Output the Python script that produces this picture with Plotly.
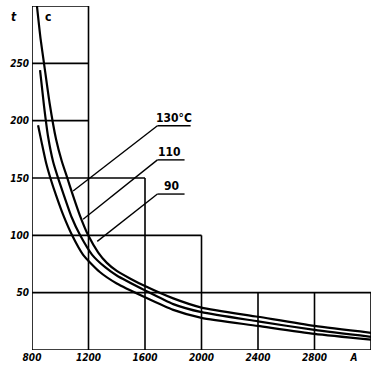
import plotly.graph_objects as go

# Current (A) and time (s)
x130 = [835, 860, 885, 925, 970, 1010, 1050, 1084, 1140, 1198, 1269, 1330, 1400, 1500, 1596, 1800, 2000, 2400, 2800, 3200]
y130 = [300, 272, 250, 215, 184, 165, 150, 137, 117, 100, 85, 76, 69, 62, 56, 45, 37, 29, 21, 15]

x110 = [857, 885, 914, 950, 990, 1020, 1080, 1141, 1226, 1320, 1400, 1600, 1800, 2000, 2400, 2800, 3200]
y110 = [244, 213, 186, 164, 148, 137, 116, 100, 83, 72, 65, 52, 40, 33, 25, 17.5, 11.5]

x90 = [843, 870, 900, 930, 970, 1020, 1084, 1162, 1280, 1400, 1600, 1800, 2000, 2400, 2800, 3200]
y90 = [196, 180, 163, 150, 135, 118, 100, 83, 68, 58, 46, 35, 28, 21, 14, 9]

x_ticks = [800, 1200, 1600, 2000, 2400, 2800, 3080]
x_ticktext = ["800", "1200", "1600", "2000", "2400", "2800", "A"]
y_ticks = [50, 100, 150, 200, 250]
y_ticktext = ["50", "100", "150", "200", "250"]

# stepped grid: horizontal (y, x_end) and vertical (x, y_top)
h_grid = [(300, 1200), (250, 1200), (200, 1200), (150, 1600), (100, 2000), (50, 3200), (0, 3200)]
v_grid = [(800, 300), (1200, 300), (1600, 150), (2000, 100), (2400, 50), (2800, 50), (3200, 50)]

# labels with leader lines: (text, label x, underline y, underline x0, x1, leader end x, y)
labels = [
    ("130°C", 1805, 195.6, 1688, 1923, 1091, 138.6),
    ("110", 1775, 165.8, 1688, 1880, 1162, 114),
    ("90", 1790, 136, 1688, 1880, 1262, 94.7),
]

FONT = "Liberation Sans Narrow, DejaVu Sans Condensed, Arial Narrow, sans-serif"

fig = go.Figure()
for xs, ys in [(x130, y130), (x110, y110), (x90, y90)]:
    fig.add_trace(go.Scatter(x=xs, y=ys, mode="lines",
                             line=dict(color="black", width=2.2, shape="spline", smoothing=0.6),
                             showlegend=False, hoverinfo="skip"))

shapes = []
for y, xe in h_grid:
    shapes.append(dict(type="line", xref="x", yref="y", x0=800, x1=xe, y0=y, y1=y,
                       line=dict(color="black", width=1.6)))
for x, yt in v_grid:
    shapes.append(dict(type="line", xref="x", yref="y", x0=x, x1=x, y0=0, y1=yt,
                       line=dict(color="black", width=1.6)))

annotations = []
for text, lx, uy, ux0, ux1, ex, ey in labels:
    shapes.append(dict(type="line", xref="x", yref="y", x0=ux0, x1=ux1, y0=uy, y1=uy,
                       line=dict(color="black", width=1.4)))
    shapes.append(dict(type="line", xref="x", yref="y", x0=ux0, x1=ex, y0=uy, y1=ey,
                       line=dict(color="black", width=1.4)))
    annotations.append(dict(x=lx, y=uy, xref="x", yref="y", text=text, showarrow=False,
                            xanchor="center", yanchor="bottom", yshift=-1,
                            font=dict(family=FONT, size=12, color="black", weight="bold")))

annotations.append(dict(x=0, y=290, xref="paper", yref="y", text="t", showarrow=False,
                        xanchor="center", xshift=-18,
                        font=dict(family=FONT, size=12, color="black", style="italic", weight="bold")))
annotations.append(dict(x=910, y=290, xref="x", yref="y", text="c", showarrow=False,
                        font=dict(family=FONT, size=12, color="black", weight="bold")))

fig.update_layout(
    width=378, height=371,
    margin=dict(l=32, r=7, t=6, b=21),
    paper_bgcolor="white", plot_bgcolor="white",
    shapes=shapes, annotations=annotations,
    xaxis=dict(range=[800, 3200], showgrid=False, zeroline=False, showline=False,
               tickmode="array", tickvals=x_ticks, ticktext=x_ticktext, ticks="",
               tickfont=dict(family=FONT, size=10, color="black", style="italic", weight="bold")),
    yaxis=dict(range=[0, 300], showgrid=False, zeroline=False, showline=False,
               tickmode="array", tickvals=y_ticks, ticktext=y_ticktext, ticks="",
               ticklabelstandoff=2,
               tickfont=dict(family=FONT, size=10, color="black", style="italic", weight="bold")),
)

fig.write_html("out.html", config={"displayModeBar": False},
               post_script="document.body.style.margin='0px';")
